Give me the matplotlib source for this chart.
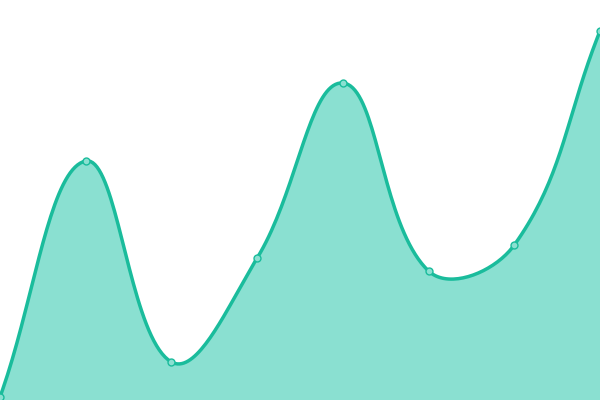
#!/usr/bin/env python3

import numpy as np
import matplotlib
matplotlib.use("Agg")
import matplotlib.pyplot as plt


xs = [0, 1, 2, 3, 4, 5, 6, 7]
values = [3, 239, 38, 142, 317, 129, 155, 369]

line_color = "#1abc9c"
fill_color = "#8ae0d1"

W, H = 600, 400


def spline_curve(x, y, tension=0.4, steps=40):
    # distance-weighted bezier spline (chart.js style), done in pixel space
    sx = W / (len(x) - 1)
    pts = np.column_stack([np.asarray(x, float) * sx, np.asarray(y, float)])
    n = len(pts)
    cp_prev, cp_next = pts.copy(), pts.copy()
    for i in range(n):
        prev = pts[max(i - 1, 0)]
        cur = pts[i]
        nxt = pts[min(i + 1, n - 1)]
        d01 = np.hypot(*(cur - prev))
        d12 = np.hypot(*(nxt - cur))
        tot = d01 + d12
        s01 = d01 / tot if tot else 0
        s12 = d12 / tot if tot else 0
        cp_prev[i] = cur - tension * s01 * (nxt - prev)
        cp_next[i] = cur + tension * s12 * (nxt - prev)
    cp_prev[:, 1] = np.clip(cp_prev[:, 1], 0, H)
    cp_next[:, 1] = np.clip(cp_next[:, 1], 0, H)
    out = []
    t = np.linspace(0, 1, steps)[:, None]
    for i in range(n - 1):
        p1, c1, c2, p2 = pts[i], cp_next[i], cp_prev[i + 1], pts[i + 1]
        out.append((1 - t)**3 * p1 + 3 * (1 - t)**2 * t * c1
                   + 3 * (1 - t) * t**2 * c2 + t**3 * p2)
    out = np.vstack(out)
    return out[:, 0] / sx, out[:, 1]


cx, cy = spline_curve(xs, values)

fig = plt.figure(figsize=(6, 4), dpi=100)
ax = fig.add_axes([0, 0, 1, 1])

ax.fill_between(cx, cy, 0, color=fill_color, linewidth=0)
ax.plot(cx, cy, color=line_color, linewidth=2.5, solid_capstyle="round")
ax.plot(xs, values, linestyle="none", marker="o", markersize=5,
        markerfacecolor=fill_color, markeredgecolor=line_color, markeredgewidth=1)

ax.set_xlim(0, 7)
ax.set_ylim(0, 400)
ax.axis("off")

plt.savefig("out.png", dpi=100)
plt.close()
